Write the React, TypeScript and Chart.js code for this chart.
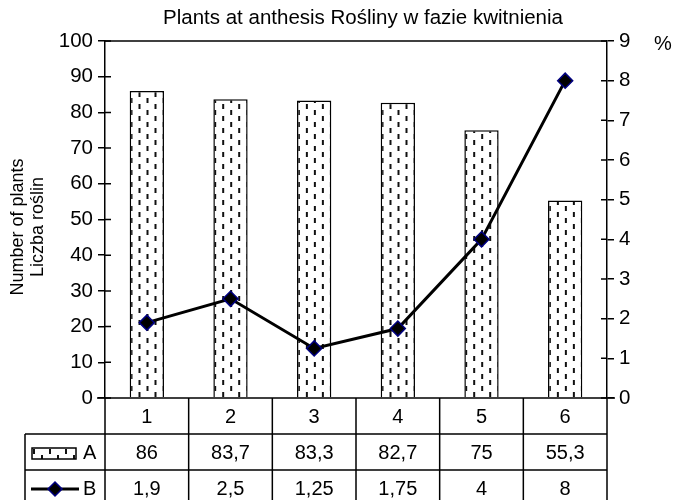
import React, { useEffect, useRef } from 'react';
import { Chart, registerables } from 'chart.js';

Chart.register(...registerables);

const categories = ['1', '2', '3', '4', '5', '6'];
const seriesA = [86, 83.7, 83.3, 82.7, 75, 55.3];
const seriesB = [1.9, 2.5, 1.25, 1.75, 4, 8];
const seriesNames = ['A', 'B'];
const leftMax = 100;
const leftStep = 10;
const rightMax = 9;
const rightStep = 1;
const titleText = 'Plants at anthesis Rośliny w fazie kwitnienia';
const yTitleLines = ['Number of plants', 'Liczba roślin'];
const rightUnit = '%';

const FONT = '"Liberation Sans", Arial, sans-serif';

function fmt(v: number): string {
  return String(v).replace('.', ',');
}

function makeTile(): HTMLCanvasElement {
  const c = document.createElement('canvas');
  c.width = 16;
  c.height = 12;
  const g = c.getContext('2d')!;
  g.fillStyle = '#ffffff';
  g.fillRect(0, 0, 16, 12);
  g.fillStyle = '#111111';
  g.fillRect(0, 0, 2, 5);
  g.fillRect(8, 6, 2, 5);
  return c;
}

function drawDiamond(ctx: CanvasRenderingContext2D, x: number, y: number, r: number) {
  ctx.beginPath();
  ctx.moveTo(x, y - r);
  ctx.lineTo(x + r, y);
  ctx.lineTo(x, y + r);
  ctx.lineTo(x - r, y);
  ctx.closePath();
  ctx.fillStyle = '#000000';
  ctx.fill();
  ctx.strokeStyle = '#000080';
  ctx.lineWidth = 1.5;
  ctx.stroke();
}

export default function App() {
  const ref = useRef<HTMLCanvasElement | null>(null);

  useEffect(() => {
    const canvas = ref.current;
    if (!canvas) return;
    const tile = makeTile();
    const barPct = 0.41;
    const rowH = 36;

    const tablePlugin = {
      id: 'tablePlugin',
      afterDraw(chart: any) {
        const ctx: CanvasRenderingContext2D = chart.ctx;
        const { left, right, top, bottom } = chart.chartArea;
        const xs = chart.scales.x;
        const yl = chart.scales.y;
        const yr = chart.scales.y2;
        const n = categories.length;
        const cw = (right - left) / n;
        ctx.save();
        ctx.strokeStyle = '#000';
        ctx.lineWidth = 1.5;
        ctx.lineCap = 'butt';

        // top border
        ctx.beginPath();
        ctx.moveTo(left, top);
        ctx.lineTo(right, top);
        ctx.stroke();

        // inner ticks
        ctx.beginPath();
        yl.ticks.forEach((t: any) => {
          const y = yl.getPixelForValue(t.value);
          ctx.moveTo(left, y);
          ctx.lineTo(left + 6, y);
        });
        yr.ticks.forEach((t: any) => {
          const y = yr.getPixelForValue(t.value);
          ctx.moveTo(right, y);
          ctx.lineTo(right - 6, y);
        });
        ctx.stroke();

        // table grid
        const tableBottom = bottom + rowH * 3;
        const legendLeft = 25;
        ctx.beginPath();
        ctx.moveTo(left - 8, bottom);
        ctx.lineTo(right + 8, bottom);
        ctx.moveTo(legendLeft, bottom + rowH);
        ctx.lineTo(right, bottom + rowH);
        ctx.moveTo(legendLeft, bottom + rowH * 2);
        ctx.lineTo(right, bottom + rowH * 2);
        for (let i = 0; i <= n; i++) {
          const x = xs.getPixelForValue(i) - cw / 2;
          ctx.moveTo(x, bottom);
          ctx.lineTo(x, tableBottom);
        }
        ctx.moveTo(legendLeft, bottom + rowH);
        ctx.lineTo(legendLeft, tableBottom);
        ctx.stroke();

        // table texts
        ctx.fillStyle = '#000';
        ctx.font = `20px ${FONT}`;
        ctx.textAlign = 'center';
        ctx.textBaseline = 'middle';
        categories.forEach((c, i) => {
          const x = xs.getPixelForValue(i);
          ctx.fillText(c, x, bottom + rowH / 2 + 1);
          ctx.fillText(fmt(seriesA[i]), x, bottom + rowH * 1.5 + 1);
          ctx.fillText(fmt(seriesB[i]), x, bottom + rowH * 2.5 + 1);
        });
        ctx.textAlign = 'left';
        ctx.fillText(seriesNames[0], 83, bottom + rowH * 1.5 + 1);
        ctx.fillText(seriesNames[1], 83, bottom + rowH * 2.5 + 1);

        // legend symbol A
        const ax = 32, ay = bottom + rowH * 1.5 - 4, aw = 44, ah = 11;
        const pat = ctx.createPattern(tile, 'repeat')!;
        pat.setTransform(new DOMMatrix([1, 0, 0, 1, ax + 1, ay + 1]));
        ctx.fillStyle = pat;
        ctx.fillRect(ax, ay, aw, ah);
        ctx.strokeRect(ax, ay, aw, ah);

        // legend symbol B
        const by = bottom + rowH * 2.5 + 1;
        ctx.beginPath();
        ctx.lineWidth = 3;
        ctx.moveTo(31, by);
        ctx.lineTo(79, by);
        ctx.stroke();
        drawDiamond(ctx, 55, by, 7);

        // titles
        ctx.fillStyle = '#000';
        ctx.font = `20.5px ${FONT}`;
        ctx.textAlign = 'center';
        ctx.textBaseline = 'middle';
        ctx.fillText(titleText, 363, 18);

        ctx.font = `20px ${FONT}`;
        ctx.textAlign = 'left';
        ctx.fillText(rightUnit, 654, top + 3);

        ctx.save();
        ctx.font = `18px ${FONT}`;
        ctx.textAlign = 'center';
        const cy = 227;
        ctx.translate(18, cy);
        ctx.rotate(-Math.PI / 2);
        ctx.fillText(yTitleLines[0], 0, 0);
        ctx.restore();
        ctx.save();
        ctx.font = `18px ${FONT}`;
        ctx.textAlign = 'center';
        ctx.textBaseline = 'middle';
        ctx.translate(38, cy);
        ctx.rotate(-Math.PI / 2);
        ctx.fillText(yTitleLines[1], 0, 0);
        ctx.restore();

        ctx.restore();
      },
    };

    const chart = new Chart(canvas, {
      type: 'bar',
      data: {
        labels: categories,
        datasets: [
          {
            type: 'line',
            label: seriesNames[1],
            data: seriesB,
            yAxisID: 'y2',
            borderColor: '#000000',
            borderWidth: 3,
            pointStyle: 'rectRot',
            pointRadius: 7.5,
            pointBackgroundColor: '#000000',
            pointBorderColor: '#000080',
            pointBorderWidth: 1.5,
            tension: 0,
            order: 0,
          } as any,
          {
            type: 'bar',
            label: seriesNames[0],
            data: seriesA,
            yAxisID: 'y',
            borderColor: '#000000',
            borderWidth: 1.5,
            borderSkipped: 'bottom',
            categoryPercentage: 1,
            barPercentage: barPct,
            backgroundColor: (c: any) => {
              const chart = c.chart;
              const xs = chart.scales && chart.scales.x;
              const g = chart.ctx as CanvasRenderingContext2D;
              const pat = g.createPattern(tile, 'repeat')!;
              if (xs && chart.chartArea) {
                const cw = (chart.chartArea.right - chart.chartArea.left) / categories.length;
                const bw = cw * barPct;
                const lx = xs.getPixelForValue(c.dataIndex) - bw / 2;
                pat.setTransform(new DOMMatrix([1, 0, 0, 1, lx + 0.8, chart.chartArea.bottom]));
              }
              return pat;
            },
            order: 1,
          } as any,
        ],
      },
      options: {
        responsive: false,
        animation: false,
        layout: { padding: { top: 41, bottom: 102, left: 0, right: 0 } },
        plugins: {
          legend: { display: false },
          title: { display: false },
          tooltip: { enabled: false },
        },
        scales: {
          x: {
            display: false,
            offset: true,
          },
          y: {
            position: 'left',
            min: 0,
            max: leftMax,
            ticks: {
              stepSize: leftStep,
              color: '#000',
              font: { family: FONT, size: 20.5 },
              padding: 5,
            },
            grid: {
              drawOnChartArea: false,
              drawTicks: true,
              tickLength: 7,
              color: '#000',
              lineWidth: 1.5,
            },
            border: { display: true, color: '#000', width: 1.5 },
            afterFit: (s: any) => {
              s.width = 105;
            },
          },
          y2: {
            position: 'right',
            min: 0,
            max: rightMax,
            ticks: {
              stepSize: rightStep,
              color: '#000',
              font: { family: FONT, size: 20.5 },
              padding: 5,
            },
            grid: {
              drawOnChartArea: false,
              drawTicks: true,
              tickLength: 7,
              color: '#000',
              lineWidth: 1.5,
            },
            border: { display: true, color: '#000', width: 1.5 },
            afterFit: (s: any) => {
              s.width = 68;
            },
          },
        },
      },
      plugins: [tablePlugin],
    } as any);

    return () => chart.destroy();
  }, []);

  return (
    <div style={{ position: 'fixed', left: 0, top: 0, width: 675, height: 500, background: '#fff' }}>
      <canvas ref={ref} width={675} height={500} style={{ display: 'block' }} />
    </div>
  );
}
